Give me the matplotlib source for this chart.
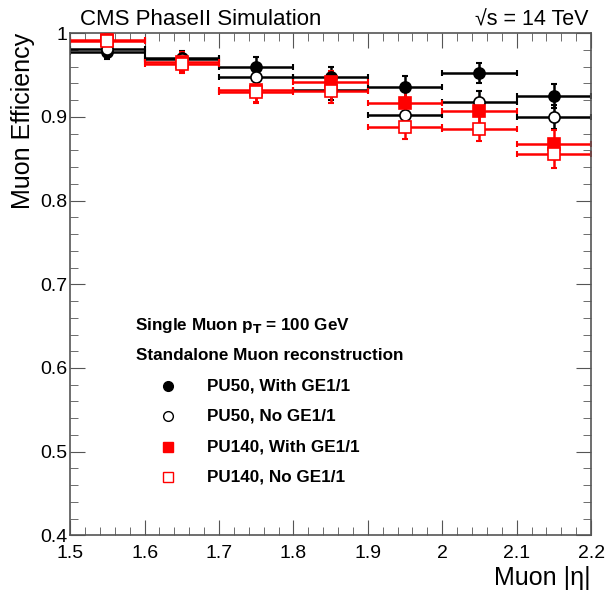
import numpy as np
import matplotlib
matplotlib.use("Agg")
import matplotlib.pyplot as plt
from matplotlib.ticker import MultipleLocator

plt.rcParams['font.family'] = ['Liberation Sans', 'DejaVu Sans']

# bins in |eta|
bin_lo = [1.5, 1.6, 1.7, 1.8, 1.9, 2.0, 2.1]
bin_hi = [1.6, 1.7, 1.8, 1.9, 2.0, 2.1, 2.2]

# efficiencies
pu50_with = [0.977, 0.970, 0.960, 0.947, 0.936, 0.952, 0.925]
pu50_no = [0.981, 0.969, 0.947, 0.932, 0.902, 0.918, 0.900]
pu140_with = [0.992, 0.966, 0.932, 0.941, 0.916, 0.907, 0.867]
pu140_no = [0.990, 0.963, 0.930, 0.931, 0.888, 0.886, 0.856]

# uncertainties
err50_with = [0.008, 0.009, 0.011, 0.012, 0.013, 0.012, 0.014]
err50_no = [0.008, 0.009, 0.011, 0.012, 0.013, 0.013, 0.014]
err140_with = [0.010, 0.011, 0.014, 0.014, 0.015, 0.015, 0.017]
err140_no = [0.010, 0.011, 0.014, 0.014, 0.015, 0.015, 0.017]

labels = ["PU50, With GE1/1", "PU50, No GE1/1", "PU140, With GE1/1", "PU140, No GE1/1"]

fig = plt.figure(figsize=(6.05, 5.91), dpi=100)
ax = fig.add_axes([0.116, 0.094, 0.861, 0.850])

lo = np.array(bin_lo)
hi = np.array(bin_hi)
xc = (lo + hi) / 2
xerr = (hi - lo) / 2

series = [
    (pu50_with, err50_with, 'o', 'black', 'black'),
    (pu50_no, err50_no, 'o', 'white', 'black'),
    (pu140_with, err140_with, 's', 'red', 'red'),
    (pu140_no, err140_no, 's', 'white', 'red'),
]

for vals, errs, m, fc, ec in series:
    ax.errorbar(xc, vals, xerr=xerr, yerr=errs, fmt='none', ecolor=ec,
                elinewidth=1.8, capsize=2, capthick=1.5, zorder=2)
for vals, errs, m, fc, ec in series:
    ax.plot(xc, vals, m, mfc=fc, mec=ec, ms=8, mew=1.2, zorder=3)

ax.set_xlim(1.5, 2.2)
ax.set_ylim(0.4, 1.0)
ax.xaxis.set_minor_locator(MultipleLocator(0.02))
ax.yaxis.set_minor_locator(MultipleLocator(0.02))
ax.set_xticks(np.arange(1.5, 2.21, 0.1))
ax.set_xticklabels(["1.5", "1.6", "1.7", "1.8", "1.9", "2", "2.1", "2.2"])
ax.set_yticks(np.arange(0.4, 1.01, 0.1))
ax.set_yticklabels(["0.4", "0.5", "0.6", "0.7", "0.8", "0.9", "1"])
ax.tick_params(which='both', direction='in', top=True, right=True,
               labelsize=14, color='#555555')
ax.tick_params(axis='x', pad=7)
ax.tick_params(axis='y', pad=2)
ax.tick_params(which='major', length=11)
ax.tick_params(which='minor', length=6)
for s in ax.spines.values():
    s.set_color('#555555')
    s.set_linewidth(1.2)

ax.set_ylabel("Muon Efficiency", fontsize=18, loc='top', labelpad=4)
ax.set_xlabel("Muon |\u03b7|", fontsize=18, loc='right', labelpad=3)

fig.text(0.132, 0.967, "CMS PhaseII Simulation", fontsize=16, ha='left', va='center')
fig.text(0.972, 0.967, "\u221as = 14 TeV", fontsize=15.5, ha='right', va='center')

# legend block
ax.text(0.125, 0.418, "Single Muon p$_\\mathbf{T}$ = 100 GeV", transform=ax.transAxes,
        fontsize=12.3, fontweight='bold', va='center')
ax.text(0.127, 0.358, "Standalone Muon reconstruction", transform=ax.transAxes,
        fontsize=12.3, fontweight='bold', va='center')
leg_y = [0.297, 0.237, 0.177, 0.117]
mk = [('o', 'black', 'black'), ('o', 'white', 'black'), ('s', 'red', 'red'), ('s', 'white', 'red')]
for yy, lab, (m, fc, ec) in zip(leg_y, labels, mk):
    ax.plot([0.187], [yy], m, mfc=fc, mec=ec, ms=7, mew=1.0, transform=ax.transAxes)
    ax.text(0.263, yy, lab, transform=ax.transAxes, fontsize=12.3,
            fontweight='bold', va='center')

fig.savefig("out.png", dpi=100)
